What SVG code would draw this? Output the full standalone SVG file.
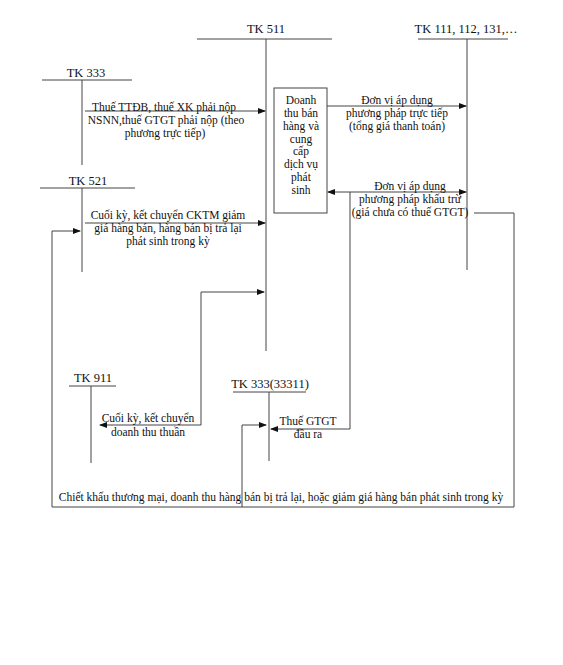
<svg xmlns="http://www.w3.org/2000/svg" width="563" height="665" viewBox="0 0 563 665">
<style>
text{font-family:"Liberation Serif","Times New Roman",serif;font-size:11.5px;fill:#111;text-anchor:middle}
.t{font-size:12.5px}
.ln{stroke:#444;stroke-width:1;fill:none}
</style>
<defs>
<marker id="ah" markerWidth="8" markerHeight="6" refX="7" refY="3" orient="auto" markerUnits="userSpaceOnUse">
<path d="M0,0 L8,3 L0,6 Z" fill="#111"/>
</marker>
<marker id="as" markerWidth="8" markerHeight="6" refX="1" refY="3" orient="auto" markerUnits="userSpaceOnUse">
<path d="M8,0 L0,3 L8,6 Z" fill="#111"/>
</marker>
</defs>
<rect width="563" height="665" fill="#fff"/>
<g id="tk511">
<text class="t" x="266" y="33">TK 511</text>
<path class="ln" d="M197,39 H332 M266,39 V351"/>
</g>
<g id="tk111">
<text class="t" x="466" y="33">TK 111, 112, 131,…</text>
<path class="ln" d="M418,39 H508 M467,39 V270"/>
</g>
<g id="tk333">
<text class="t" x="86" y="77">TK 333</text>
<path class="ln" d="M42,80 H132 M82,80 V165"/>
</g>
<g id="tk521">
<text class="t" x="88" y="185">TK 521</text>
<path class="ln" d="M40,188 H135 M82,188 V272"/>
</g>
<g id="tk911">
<text class="t" x="93" y="382">TK 911</text>
<path class="ln" d="M69,386 H116 M91,386 V463"/>
</g>
<g id="tk33311">
<text class="t" x="270" y="388">TK 333(33311)</text>
<path class="ln" d="M233,392 H306 M269,392 V461"/>
</g>
<g id="box">
<rect x="274" y="88" width="53" height="125" fill="#fff" stroke="#444"/>
<text x="301" y="104">Doanh</text>
<text x="301" y="117">thu bán</text>
<text x="301" y="130">hàng và</text>
<text x="301" y="143">cung</text>
<text x="301" y="155">cấp</text>
<text x="301" y="168">dịch vụ</text>
<text x="301" y="181">phát</text>
<text x="301" y="194">sinh</text>
</g>
<g id="connectors">
<path class="ln" d="M85,111 H265" marker-end="url(#ah)"/>
<path class="ln" d="M85,223 H265" marker-end="url(#ah)"/>
<path class="ln" d="M327,106 H466" marker-end="url(#ah)"/>
<path class="ln" d="M328,192 H466" marker-start="url(#as)" marker-end="url(#ah)"/>
<path class="ln" d="M350,192 V429 H271" marker-end="url(#ah)"/>
<path class="ln" d="M264,292 H201 V425 H100" marker-start="url(#as)" marker-end="url(#ah)"/>
<path class="ln" d="M474,213 H514 V507 H52 V231 H80" marker-end="url(#ah)"/>
<path class="ln" d="M242,507 V425 H266" marker-end="url(#ah)"/>
</g>
<g id="labels">
<text x="164" y="111">Thuế TTĐB, thuế XK phải nộp</text>
<text x="166" y="124">NSNN,thuế GTGT phải nộp (theo</text>
<text x="165" y="137">phương trực tiếp)</text>
<text x="168" y="219">Cuối kỳ, kết chuyển CKTM giảm</text>
<text x="168" y="232">giá hàng bán, hàng bán bị trả lại</text>
<text x="168" y="245">phát sinh trong kỳ</text>
<text x="397" y="104">Đơn vị áp dụng</text>
<text x="397" y="117">phương pháp trực tiếp</text>
<text x="397" y="130">(tổng giá thanh toán)</text>
<text x="410" y="190">Đơn vị áp dụng</text>
<text x="410" y="203">phương pháp khấu trừ</text>
<text x="410" y="216">(giá chưa có thuế GTGT)</text>
<text x="148" y="422">Cuối kỳ, kết chuyển</text>
<text x="148" y="436">doanh thu thuần</text>
<text x="308" y="425">Thuế GTGT</text>
<text x="308" y="438">đầu ra</text>
<text x="281" y="501">Chiết khấu thương mại, doanh thu hàng bán bị trả lại, hoặc giảm giá hàng bán phát sinh trong kỳ</text>
</g>
</svg>
